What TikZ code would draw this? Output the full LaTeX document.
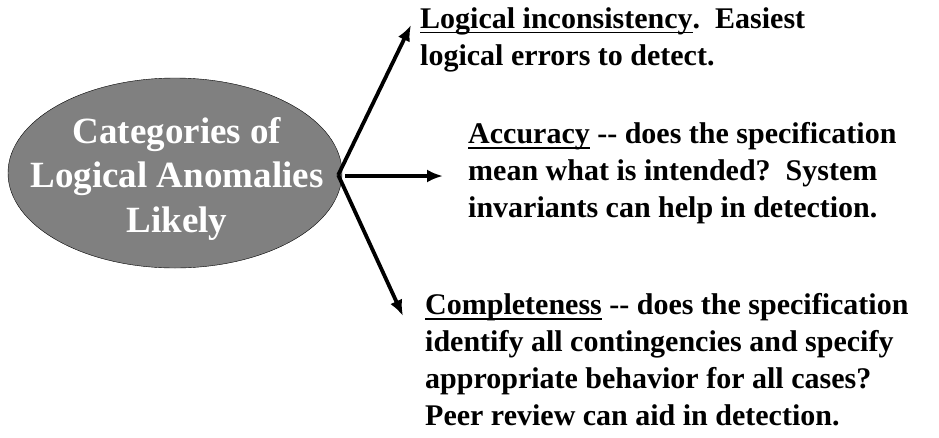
\documentclass[tikz,border=0pt]{standalone}
\usepackage{fontspec}
\setmainfont{Liberation Serif}
\usetikzlibrary{arrows.meta, shapes.geometric}
\tikzset{>={Latex[length=16pt,width=13pt]}}
% thick underline a little below the baseline
\newcommand{\thickul}[1]{\setbox0\hbox{#1}\rlap{\vrule width\wd0 height-3.2pt depth5pt}\box0\relax}
% last line of each note sits on its base anchor
\tikzset{note/.style={anchor=base west, align=left, inner sep=0pt, font=\bfseries\fontsize{30}{36.7}\selectfont}}
\tikzset{branch/.style={->, line width=3.8pt}}

\begin{document}
\begin{tikzpicture}[x=1pt, y=-1pt]
\useasboundingbox (0, 0) rectangle (939, 437);
\node[ellipse, draw=black, thin, fill={rgb,255:red,128;green,128;blue,128}, minimum width=334pt, minimum height=190pt, inner sep=0pt] (cat) at (175, 173) {};
\node[anchor=base, align=center, inner sep=0pt, text=white, font=\bfseries\fontsize{37}{44.5}\selectfont] (catlabel) at (177, 232) {Categories of\\Logical Anomalies\\Likely};

\node[note] (inconsist) at (420, 65) {\thickul{Logical inconsistency}.\ \ Easiest\\logical errors to detect.};
\node[note] (accuracy) at (468, 217) {\thickul{Accuracy} -{}- does the specification\\mean what is intended?\ \ System\\invariants can help in detection.};
\node[note] (complete) at (425, 425) {\thickul{Completeness} -{}- does the specification\\identify all contingencies and specify\\appropriate behavior for all cases?\\Peer review can aid in detection.};

\coordinate (apex) at ([shift={(-4,2)}]cat.east);
\coordinate (uptip) at (411, 25);
\coordinate (midstart) at (345, 176);
\coordinate (midtip) at (443, 176);
\coordinate (downtip) at (403, 316);

\draw[branch] (apex) -- (uptip);
\draw[branch] (apex) -- (downtip);
\draw[branch] (midstart) -- (midtip);

\end{tikzpicture}
\end{document}
